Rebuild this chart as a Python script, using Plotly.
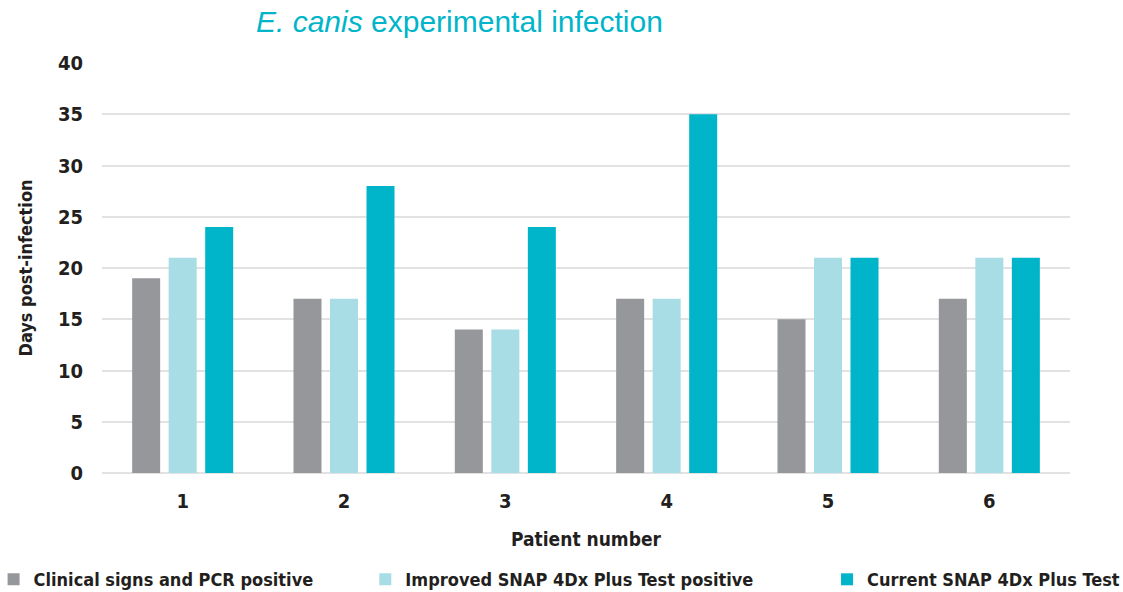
import plotly.graph_objects as go

patients = ["1", "2", "3", "4", "5", "6"]
clinical = [19, 17, 14, 17, 15, 17]
improved = [21, 17, 14, 17, 21, 21]
current = [24, 28, 24, 35, 21, 21]

series_names = ["Clinical signs and PCR positive",
                "Improved SNAP 4Dx Plus Test positive",
                "Current SNAP 4Dx Plus Test"]
colors = ["#96979b", "#a8dde6", "#00b5c9"]

FONT = "DejaVu Sans Condensed, Liberation Sans Narrow, Arial Narrow, sans-serif"
TXT = "#231f20"

fig = go.Figure()
for i, (name, vals) in enumerate(zip(series_names, [clinical, improved, current])):
    fig.add_trace(go.Bar(
        x=patients, y=vals, name=name, marker_color=colors[i],
        marker_line_width=0,
        legend="legend" if i == 0 else f"legend{i+1}",
    ))

leg_common = dict(orientation="h", yanchor="middle", y=-0.26, xanchor="left",
                  font=dict(family=FONT, size=18, color=TXT, weight="bold"),
                  bgcolor="rgba(0,0,0,0)", itemwidth=30, tracegroupgap=0)

fig.update_layout(
    width=1123, height=592,
    margin=dict(l=102, r=53, t=63, b=119, autoexpand=False),
    paper_bgcolor="white", plot_bgcolor="white",
    barmode="group", bargap=0.321, bargroupgap=0.233,
    showlegend=True,
    legend=dict(x=-0.112, **leg_common),
    legend2=dict(x=0.272, **leg_common),
    legend3=dict(x=0.749, **leg_common),
    xaxis=dict(
        showgrid=False, showline=False, zeroline=False,
        tickfont=dict(family=FONT, size=20, color=TXT, weight="bold"),
        ticklabelstandoff=14,
        title=dict(text="Patient number",
                   font=dict(family=FONT, size=19, color=TXT, weight="bold"),
                   standoff=20),
    ),
    yaxis=dict(
        range=[0, 40], dtick=5, showgrid=True, gridcolor="#e2e2e2", gridwidth=2,
        zeroline=True, zerolinecolor="#e2e2e2", zerolinewidth=2, showline=False,
        tickfont=dict(family=FONT, size=20, color=TXT, weight="bold"),
        ticklabelstandoff=18,
        title=dict(text="Days post-infection",
                   font=dict(family=FONT, size=18, color=TXT, weight="bold"),
                   standoff=20),
    ),
    annotations=[dict(
        text="<i>E. canis</i> experimental infection",
        xref="paper", yref="paper", x=0.369, y=1.10,
        xanchor="center", yanchor="middle", showarrow=False,
        font=dict(family="Liberation Sans, Arial, sans-serif", size=30, color="#00b5c9"),
    )],
)

fig.write_html("out.html", config={"displayModeBar": False},
               post_script="document.body.style.margin='0';")
